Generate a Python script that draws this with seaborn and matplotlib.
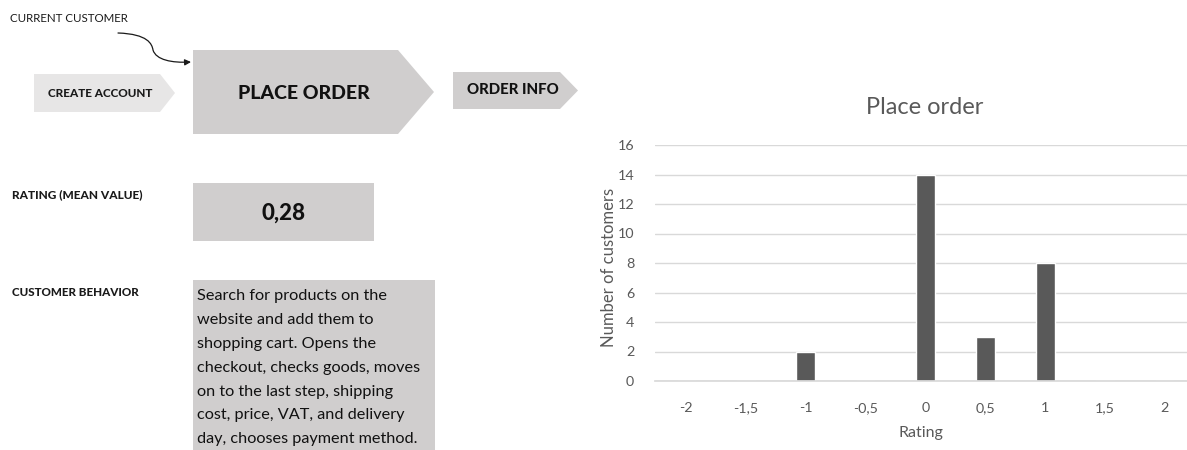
import matplotlib
matplotlib.use("Agg")
import matplotlib.pyplot as plt
from matplotlib.patches import Polygon, Rectangle, FancyArrowPatch
from matplotlib.path import Path
import seaborn as sns
import pandas as pd

# Rating distribution for the "Place order" step
ratings = ["-2", "-1,5", "-1", "-0,5", "0", "0,5", "1", "1,5", "2"]
customers = [0, 0, 2, 0, 14, 3, 8, 0, 0]
y_ticks = [0, 2, 4, 6, 8, 10, 12, 14, 16]

mean_rating = "0,28"
behavior_lines = [
    "Search for products on the",
    "website and add them to",
    "shopping cart. Opens the",
    "checkout, checks goods, moves",
    "on to the last step, shipping",
    "cost, price, VAT, and delivery",
    "day, chooses payment method.",
]

sns.set_theme(style="white")
plt.rcParams["font.family"] = ["Lato", "DejaVu Sans"]

W, H = 1187, 450
fig = plt.figure(figsize=(W / 100, H / 100), dpi=100)
fig.patch.set_facecolor("white")

TXT = "#595959"
GRID = "#d9d9d9"
BAR = "#595959"


def px_axes(left, top, right, bottom):
    return [left / W, 1 - bottom / H, (right - left) / W, (bottom - top) / H]


# ---- process flow panel (pixel coordinates) ----
ax0 = fig.add_axes([0, 0, 1, 1])
ax0.set_xlim(0, W)
ax0.set_ylim(H, 0)
ax0.axis("off")


def chevron(x0, y0, x1, y1, tip, color):
    ym = (y0 + y1) / 2
    return Polygon([(x0, y0), (x1, y0), (tip, ym), (x1, y1), (x0, y1)],
                   closed=True, facecolor=color, edgecolor="none")


ax0.add_patch(chevron(34, 74, 160, 112, 175, "#e7e6e6"))
ax0.text(100, 93.5, "CREATE ACCOUNT", ha="center", va="center",
         fontsize=8.5, fontweight="black", color="#1a1a1a")

ax0.add_patch(chevron(193, 50, 398, 134, 434, "#d0cece"))
ax0.text(304, 93.5, "PLACE ORDER", ha="center", va="center",
         fontsize=14, fontweight="black", color="#111111")

ax0.add_patch(chevron(453, 72, 560, 109, 578, "#d0cece"))
ax0.text(513, 90.5, "ORDER INFO", ha="center", va="center",
         fontsize=10.8, fontweight="black", color="#111111")

ax0.text(10, 18, "CURRENT CUSTOMER", ha="left", va="center",
         fontsize=8.3, color="#1a1a1a")

curve = Path([(118, 33), (148, 34), (152, 44), (153, 50),
              (156, 60), (172, 63), (191, 62)],
             [Path.MOVETO, Path.CURVE4, Path.CURVE4, Path.CURVE4,
              Path.CURVE4, Path.CURVE4, Path.CURVE4])
ax0.add_patch(FancyArrowPatch(path=curve, arrowstyle="-|>", mutation_scale=9,
                              color="#1a1a1a", lw=0.9))

ax0.text(12, 195, "RATING (MEAN VALUE)", ha="left", va="center",
         fontsize=8.6, fontweight="black", color="#1a1a1a")
ax0.add_patch(Rectangle((193, 183), 181, 58, facecolor="#d0cece", edgecolor="none"))
ax0.text(283.5, 213, mean_rating, ha="center", va="center",
         fontsize=16, fontweight="black", color="#111111")

ax0.text(12, 292, "CUSTOMER BEHAVIOR", ha="left", va="center",
         fontsize=8.4, fontweight="black", color="#1a1a1a")
ax0.add_patch(Rectangle((193, 280), 242, 175, facecolor="#d0cece", edgecolor="none"))
for i, line in enumerate(behavior_lines):
    ax0.text(197, 296 + i * 23.9, line, ha="left", va="center",
             fontsize=11.7, color="#111111")

# ---- rating histogram ----
ax = fig.add_axes(px_axes(655, 145, 1187, 381))
df = pd.DataFrame({"Rating": ratings, "Customers": customers})
sns.barplot(data=df, x="Rating", y="Customers", order=ratings,
            color=BAR, saturation=1, width=0.32, ax=ax)
ax.set_xlim(-0.52, 8.37)
ax.set_ylim(0, 16)
ax.set_yticks(y_ticks)
ax.set_yticklabels([str(v) for v in y_ticks])
ax.grid(axis="y", color=GRID, lw=1)
ax.set_axisbelow(True)
for s in ["left", "right", "top"]:
    ax.spines[s].set_visible(False)
ax.spines["bottom"].set_color(GRID)
ax.tick_params(axis="both", length=0, colors=TXT, labelsize=10.3)
ax.tick_params(axis="x", pad=15)
ax.tick_params(axis="y", pad=15)
ax.set_xlabel("Rating", color=TXT, fontsize=11.5, labelpad=9)
ax.set_ylabel("Number of customers", color=TXT, fontsize=12)
ax.yaxis.set_label_coords(-0.072, 0.48)
fig.text(925 / W, 1 - 108 / H, "Place order", ha="center", va="center",
         fontsize=17, color=TXT)

fig.savefig("out.png", dpi=100, facecolor="white")
